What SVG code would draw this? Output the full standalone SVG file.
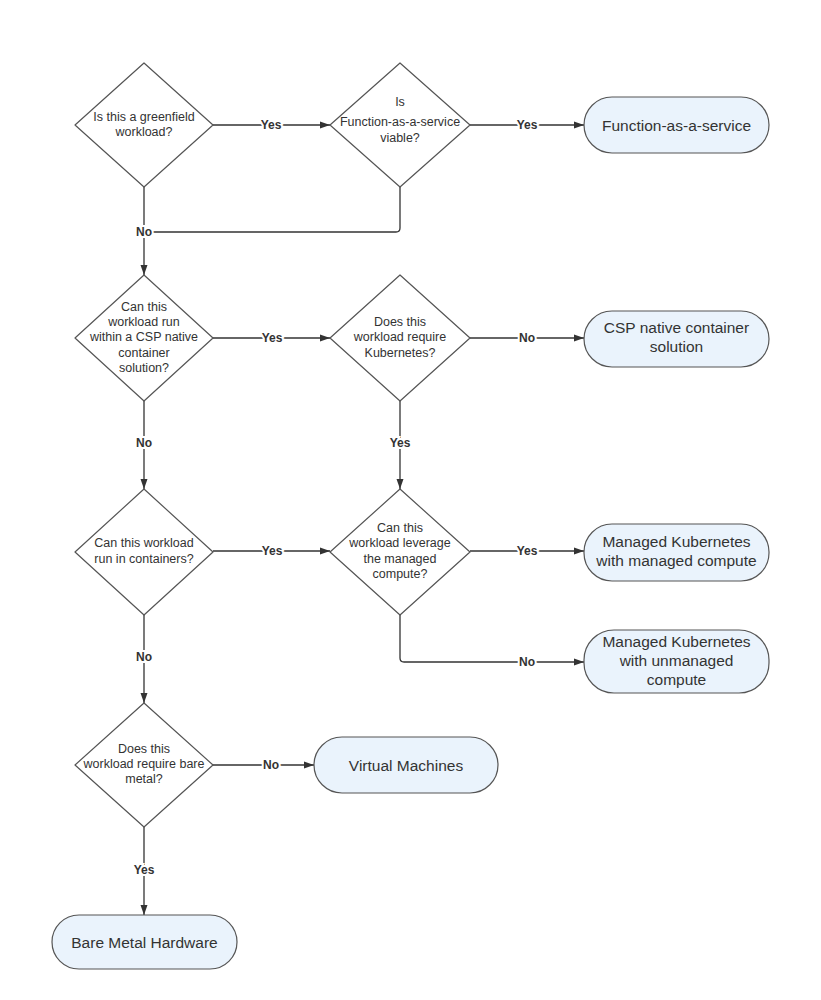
<svg xmlns="http://www.w3.org/2000/svg" width="821" height="1000" viewBox="0 0 821 1000">
<defs>
<marker id="arr" viewBox="0 0 10 10" refX="10" refY="5" markerWidth="10" markerHeight="10" markerUnits="userSpaceOnUse" orient="auto">
<path d="M0,1.5 L10,5 L0,8.5 Z" fill="#333"/>
</marker>
<style>
.d{fill:#fff;stroke:#555;stroke-width:1.2;stroke-linejoin:round}
.t{fill:#eaf3fc;stroke:#555;stroke-width:1.2}
.dt{font-family:"Liberation Sans",Arial,sans-serif;font-size:12.5px;fill:#333;text-anchor:middle}
.tt{font-family:"Liberation Sans",Arial,sans-serif;font-size:15.5px;fill:#333;text-anchor:middle}
.c{fill:none;stroke:#333;stroke-width:1.3}
.l{font-family:"Liberation Sans",Arial,sans-serif;font-size:12px;font-weight:bold;fill:#333;text-anchor:middle;stroke:#fff;stroke-width:4;paint-order:stroke}
</style>
</defs>
<rect width="821" height="1000" fill="#fff"/>

<g id="connectors">
<path class="c" d="M213,125 H330" marker-end="url(#arr)"/>
<path class="c" d="M470,125 H584" marker-end="url(#arr)"/>
<path class="c" d="M144,187 V275" marker-end="url(#arr)"/>
<path class="c" d="M400,187 V228 Q400,232 396,232 H144"/>
<path class="c" d="M213,338 H330" marker-end="url(#arr)"/>
<path class="c" d="M470,338 H584" marker-end="url(#arr)"/>
<path class="c" d="M144,401 V489" marker-end="url(#arr)"/>
<path class="c" d="M400,401 V489" marker-end="url(#arr)"/>
<path class="c" d="M213,551 H330" marker-end="url(#arr)"/>
<path class="c" d="M470,551 H584" marker-end="url(#arr)"/>
<path class="c" d="M400,615 V658 Q400,662 404,662 H584" marker-end="url(#arr)"/>
<path class="c" d="M144,615 V703" marker-end="url(#arr)"/>
<path class="c" d="M213,765 H314" marker-end="url(#arr)"/>
<path class="c" d="M144,827 V915" marker-end="url(#arr)"/>
<text class="l" x="271" y="129">Yes</text>
<text class="l" x="527" y="129">Yes</text>
<text class="l" x="144" y="236">No</text>
<text class="l" x="272" y="342">Yes</text>
<text class="l" x="527" y="342">No</text>
<text class="l" x="144" y="447">No</text>
<text class="l" x="400" y="447">Yes</text>
<text class="l" x="272" y="555">Yes</text>
<text class="l" x="527" y="555">Yes</text>
<text class="l" x="527" y="666">No</text>
<text class="l" x="144" y="661">No</text>
<text class="l" x="271" y="769">No</text>
<text class="l" x="144" y="874">Yes</text>
</g>

<g id="q-greenfield">
<path class="d" d="M144,63 L213,125 L144,187 L75,125 Z"/>
<text class="dt" x="144" y="121">Is this a greenfield</text>
<text class="dt" x="144" y="136">workload?</text>
</g>
<g id="q-faas">
<path class="d" d="M400,63 L470,125 L400,187 L330,125 Z"/>
<text class="dt" x="400" y="106">Is</text>
<text class="dt" x="400" y="126">Function-as-a-service</text>
<text class="dt" x="400" y="142">viable?</text>
</g>
<g id="t-faas">
<rect class="t" x="584" y="97" width="185" height="56" rx="28"/>
<text class="tt" x="676.5" y="131">Function-as-a-service</text>
</g>

<g id="q-csp">
<path class="d" d="M144,275 L213,338 L144,401 L75,338 Z"/>
<text class="dt" x="144" y="311">Can this</text>
<text class="dt" x="144" y="326">workload run</text>
<text class="dt" x="144" y="341">within a CSP native</text>
<text class="dt" x="144" y="357">container</text>
<text class="dt" x="144" y="372">solution?</text>
</g>
<g id="q-k8s">
<path class="d" d="M400,275 L470,338 L400,401 L330,338 Z"/>
<text class="dt" x="400" y="326">Does this</text>
<text class="dt" x="400" y="341">workload require</text>
<text class="dt" x="400" y="357">Kubernetes?</text>
</g>
<g id="t-csp">
<rect class="t" x="584" y="311" width="185" height="56" rx="28"/>
<text class="tt" x="676.5" y="333">CSP native container</text>
<text class="tt" x="676.5" y="352">solution</text>
</g>

<g id="q-containers">
<path class="d" d="M144,489 L213,552 L144,615 L75,552 Z"/>
<text class="dt" x="144" y="547">Can this workload</text>
<text class="dt" x="144" y="563">run in containers?</text>
</g>
<g id="q-managed">
<path class="d" d="M400,489 L470,552 L400,615 L330,552 Z"/>
<text class="dt" x="400" y="532">Can this</text>
<text class="dt" x="400" y="547">workload leverage</text>
<text class="dt" x="400" y="563">the managed</text>
<text class="dt" x="400" y="578">compute?</text>
</g>
<g id="t-managed">
<rect class="t" x="584" y="524" width="185" height="57" rx="28"/>
<text class="tt" x="676.5" y="547">Managed Kubernetes</text>
<text class="tt" x="676.5" y="566">with managed compute</text>
</g>
<g id="t-unmanaged">
<rect class="t" x="584" y="630" width="185" height="63" rx="30"/>
<text class="tt" x="676.5" y="647">Managed Kubernetes</text>
<text class="tt" x="676.5" y="666">with unmanaged</text>
<text class="tt" x="676.5" y="685">compute</text>
</g>

<g id="q-baremetal">
<path class="d" d="M144,703 L213,765 L144,827 L75,765 Z"/>
<text class="dt" x="144" y="753">Does this</text>
<text class="dt" x="144" y="768">workload require bare</text>
<text class="dt" x="144" y="783">metal?</text>
</g>
<g id="t-vm">
<rect class="t" x="314" y="737" width="184" height="56" rx="28"/>
<text class="tt" x="406" y="771">Virtual Machines</text>
</g>
<g id="t-bare">
<rect class="t" x="52" y="915" width="185" height="54" rx="27"/>
<text class="tt" x="144.5" y="948">Bare Metal Hardware</text>
</g>
</svg>
